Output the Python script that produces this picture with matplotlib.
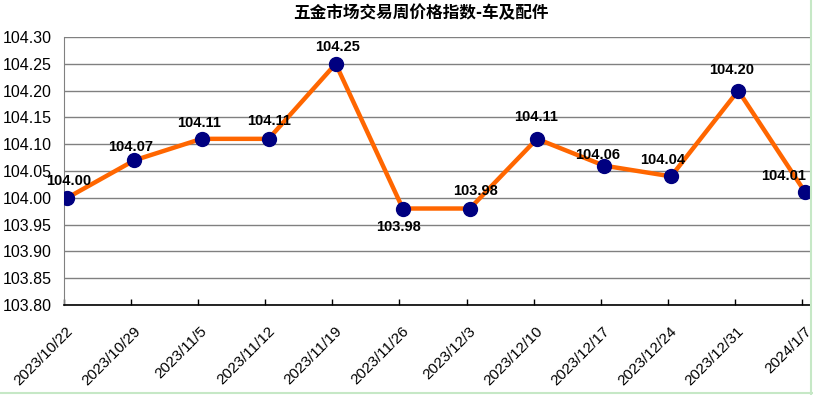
import numpy as np
import matplotlib
matplotlib.use('Agg')
import matplotlib.pyplot as plt
import matplotlib.transforms as mtransforms

plt.rcParams['font.family'] = ['Liberation Sans', 'Noto Sans CJK SC', 'DejaVu Sans']

# data
dates = ['2023/10/22', '2023/10/29', '2023/11/5', '2023/11/12', '2023/11/19', '2023/11/26',
         '2023/12/3', '2023/12/10', '2023/12/17', '2023/12/24', '2023/12/31', '2024/1/7']
values = [104.00, 104.07, 104.11, 104.11, 104.25, 103.98,
          103.98, 104.11, 104.06, 104.04, 104.20, 104.01]
# label offsets in pixels (dx, dy), to mimic excel label placement
label_off = [(1, 17), (-4, 13), (-2, 16), (0, 18), (2, 17), (-4, -18),
             (6, 18), (-1, 22), (-6, 11), (-8, 16), (-7, 21), (-22, 16)]

W, H = 813, 395
fig = plt.figure(figsize=(W / 100, H / 100), dpi=100)
ax = fig.add_axes([64 / W, (H - 305) / H, (810 - 64) / W, (305 - 37) / H])

x = np.arange(len(values))
ax.plot(x, values, color='#FF6600', lw=3.2, zorder=2)
ax.plot(x, values, 'o', color='#000080', ms=10, zorder=3)

for xi, v, (dx, dy) in zip(x, values, label_off):
    ax.annotate('%.2f' % v, (xi, v), xytext=(dx * 0.72, dy * 0.72), textcoords='offset points',
                ha='center', va='center', fontsize=10.5, fontweight='bold', color='black', zorder=4)

ax.set_ylim(103.80, 104.30)
ax.set_yticks(np.arange(103.80, 104.301, 0.05))
ax.yaxis.set_major_formatter(matplotlib.ticker.FormatStrFormatter('%.2f'))
ax.set_xlim(-0.045, 11.07)
# excel puts the ticks a hair left of the points
tick_x = x - 0.05
ax.set_xticks(tick_x)
ax.set_xticklabels([])

# rotated date labels, placed like excel does
off = mtransforms.ScaledTranslation(7 / 100, -24 / 100, fig.dpi_scale_trans)
for xi, d in zip(tick_x, dates):
    ax.text(xi, 0, d, transform=ax.get_xaxis_transform() + off, rotation=45,
            ha='right', va='center', rotation_mode='anchor', fontsize=11, clip_on=False)

ax.yaxis.grid(True, color='#808080', lw=1)
ax.set_axisbelow(True)
ax.tick_params(axis='y', length=0, pad=9, labelsize=11.5)
ax.tick_params(axis='x', direction='in', length=4.5, width=1, color='black')
for s in ['top', 'right']:
    ax.spines[s].set_visible(False)
ax.spines['left'].set_color('#808080')
ax.spines['bottom'].set_color('black')
ax.spines['bottom'].set_linewidth(1.2)

fig.text(421 / W, 1 - 13 / H, '五金市场交易周价格指数-车及配件', ha='center', va='center',
         fontsize=12, fontweight='bold', family=['Noto Sans CJK SC', 'DejaVu Sans'])

# pale green frame on right and bottom
fig.add_artist(plt.Line2D([811 / W, 811 / W], [0, 1], color='#C6E8C6', lw=1.5))
fig.add_artist(plt.Line2D([0, 1], [2 / H, 2 / H], color='#C6E8C6', lw=1.5))

fig.savefig('out.png', dpi=100)
